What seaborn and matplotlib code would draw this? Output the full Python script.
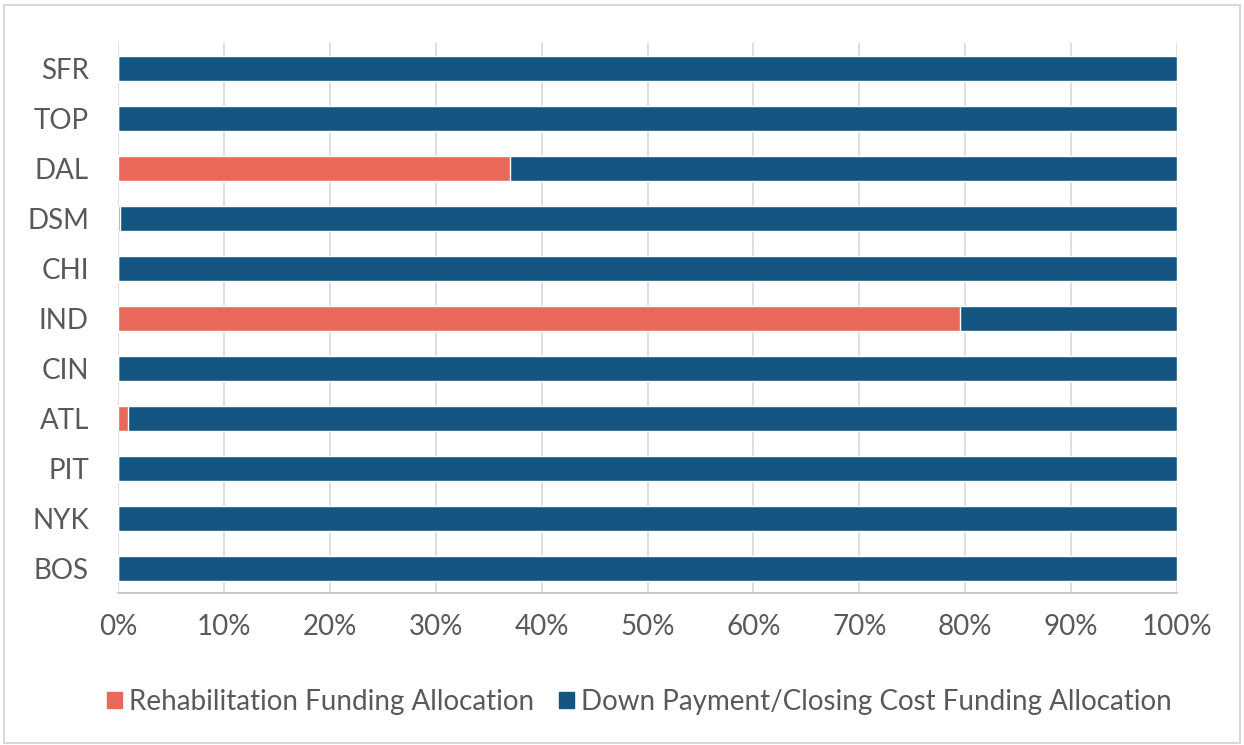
import matplotlib
matplotlib.use("Agg")
import matplotlib.pyplot as plt
import seaborn as sns
import pandas as pd
import numpy as np
from matplotlib.patches import Patch, Rectangle

categories = ["SFR", "TOP", "DAL", "DSM", "CHI", "IND", "CIN", "ATL", "PIT", "NYK", "BOS"]
rehab = [0.0, 0.0, 37.0, 0.2, 0.0, 79.5, 0.0, 0.9, 0.0, 0.0, 0.0]
down_payment = [100 - r for r in rehab]
xticks = list(range(0, 101, 10))

red = "#E8695A"
blue = "#145582"
textc = "#595959"

sns.set_theme(style="white")
plt.rcParams['font.family'] = ['Lato', 'DejaVu Sans']

df = pd.DataFrame({"cat": categories, "rehab": rehab, "dp": down_payment})
df["total"] = df["rehab"] + df["dp"]

fig = plt.figure(figsize=(12.44, 7.45), dpi=100)
ax = fig.add_axes([0.0949, 0.204, 0.8513, 0.738])

sns.barplot(data=df, y="cat", x="total", color=blue, orient="h", width=0.5, ax=ax,
            saturation=1, order=categories)
sns.barplot(data=df, y="cat", x="rehab", color=red, orient="h", width=0.5, ax=ax,
            saturation=1, order=categories)

ax.set_xlim(0, 100)
ax.set_ylim(len(categories) - 0.5, -0.5)
ax.set_xticks(xticks)
ax.set_xticklabels([f"{t}%" for t in xticks])
ax.set_xlabel("")
ax.set_ylabel("")
ax.set_axisbelow(True)
ax.xaxis.grid(True, color="#d9d9d9", linewidth=1.2)
ax.yaxis.grid(False)
for s in ["top", "right", "left"]:
    ax.spines[s].set_visible(False)
ax.spines["bottom"].set_color("#bfbfbf")
ax.spines["bottom"].set_linewidth(1.2)
ax.tick_params(axis="x", colors=textc, labelsize=20, length=7, width=1.2, color="#bfbfbf",
               direction="out", pad=8)
ax.tick_params(axis="y", colors=textc, labelsize=20, length=0, pad=21)
for lbl in ax.get_xticklabels() + ax.get_yticklabels():
    lbl.set_color(textc)

handles = [Patch(facecolor=red, edgecolor=red), Patch(facecolor=blue, edgecolor=blue)]
fig.legend(handles, ["Rehabilitation Funding Allocation",
                     "Down Payment/Closing Cost Funding Allocation"],
           loc="center", bbox_to_anchor=(0.514, 0.058), ncol=2, frameon=False,
           fontsize=20, handlelength=0.55, handleheight=0.55, handletextpad=0.25,
           columnspacing=0.9, labelcolor=textc)

fig.add_artist(Rectangle((0.003, 0.003), 0.994, 0.99, transform=fig.transFigure,
                         fill=False, edgecolor="#d9d9d9", linewidth=1.5))

fig.savefig("out.png", dpi=100)
